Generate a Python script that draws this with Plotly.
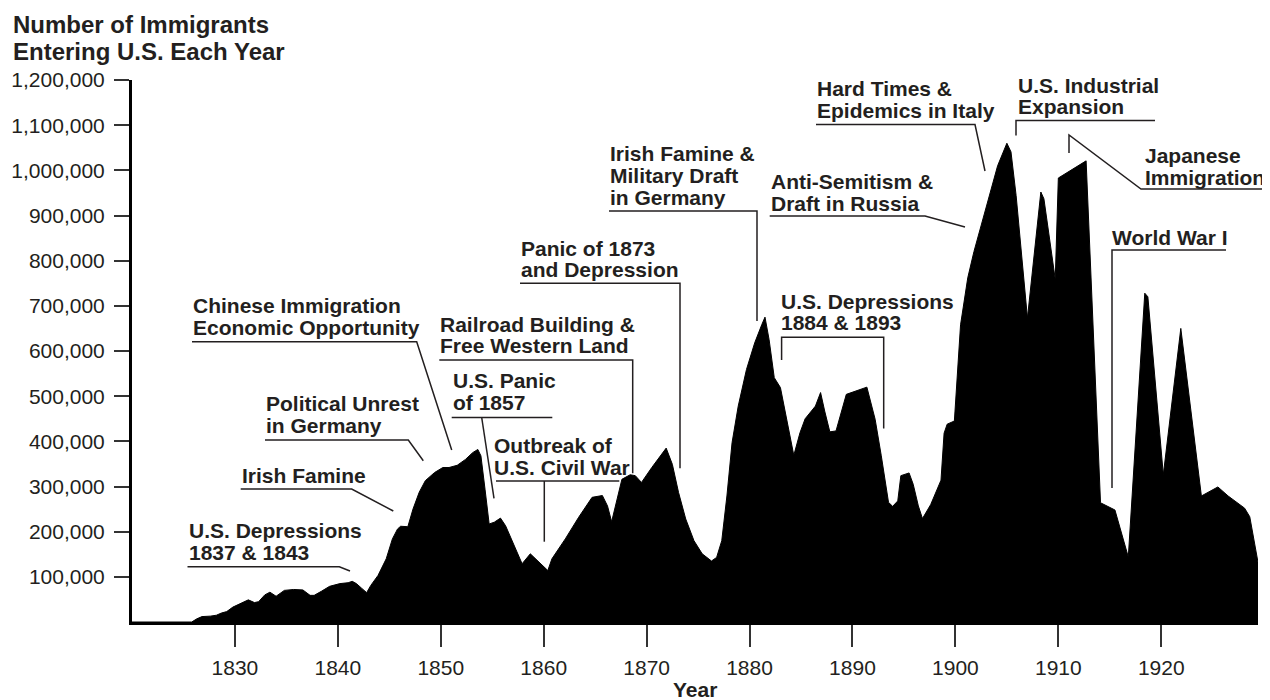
import plotly.graph_objects as go

# ---------------- data ----------------
years = [1820, 1825.8, 1826.3, 1826.8, 1827.6, 1828.2, 1828.7, 1829.2, 1829.8, 1830.5,
         1831.3, 1831.9, 1832.3, 1832.9, 1833.4, 1834.0, 1834.8, 1835.7, 1836.6, 1837.3,
         1837.7, 1838.4, 1839.2, 1840.2, 1841.0, 1841.4, 1841.8, 1842.3, 1842.8, 1843.2,
         1843.9, 1844.7, 1845.3, 1845.8, 1846.1, 1846.8, 1847.3, 1847.9, 1848.5, 1849.4,
         1850.2, 1850.8, 1851.6, 1852.4, 1853.1, 1853.6, 1853.9, 1854.3, 1854.7, 1855.2,
         1855.8, 1856.3, 1857.1, 1857.9, 1858.7, 1859.6, 1860.4, 1860.8, 1862.1, 1863.4,
         1864.7, 1865.7, 1866.2, 1866.6, 1867.1, 1867.6, 1868.4, 1868.9, 1869.5, 1870.5,
         1871.9, 1872.5, 1873.1, 1873.8, 1874.6, 1875.4, 1876.3, 1876.8, 1877.3, 1877.8,
         1878.3, 1878.9, 1879.7, 1880.5, 1881.2, 1881.5, 1881.9, 1882.4, 1883.0, 1883.6,
         1884.3, 1884.9, 1885.4, 1886.4, 1886.9, 1887.3, 1887.8, 1888.4, 1889.4, 1891.4,
         1892.2, 1892.8, 1893.5, 1893.9, 1894.4, 1894.7, 1895.5, 1895.9, 1896.4, 1896.8,
         1897.6, 1898.6, 1898.9, 1899.2, 1899.9, 1900.5, 1901.2, 1901.8, 1902.9, 1904.1,
         1905.0, 1905.4, 1905.9, 1907.0, 1908.3, 1908.6, 1909.7, 1910.0, 1912.7, 1914.1,
         1915.5, 1916.8, 1918.4, 1918.7, 1920.2, 1921.9, 1923.9, 1925.5, 1926.5, 1928.1,
         1928.6, 1929.4]

immigrants_k = [0, 0, 7, 12, 13, 15, 20, 23, 33, 40,
                49, 43, 45, 60, 66, 57, 70, 72, 71, 59,
                59, 68, 79, 85, 87, 90, 85, 75, 65, 81,
                103, 140, 184, 206, 212, 211, 250, 287, 313, 331,
                342, 342, 347, 360, 375, 382, 368, 294, 217, 221,
                230, 213, 169, 129, 151, 132, 114, 140, 184, 232,
                276, 280, 257, 222, 272, 316, 326, 324, 309, 342,
                385, 349, 287, 228, 180, 151, 135, 143, 180, 279,
                397, 478, 559, 618, 659, 675, 625, 541, 519, 449,
                369, 419, 450, 478, 508, 467, 421, 423, 504, 520,
                449, 368, 265, 256, 268, 324, 330, 305, 257, 229,
                260, 314, 418, 438, 445, 658, 762, 820, 909, 1010,
                1060, 1041, 944, 673, 952, 937, 759, 983, 1021, 264,
                248, 144, 728, 720, 326, 650, 279, 299, 279, 252,
                233, 132]

immigrants = [v * 1000 for v in immigrants_k]

x_tick_years = [1830, 1840, 1850, 1860, 1870, 1880, 1890, 1900, 1910, 1920]
x_tick_labels = [str(y) for y in x_tick_years]
y_tick_values = [100000 * i for i in range(1, 13)]
y_tick_labels = ["100,000", "200,000", "300,000", "400,000", "500,000", "600,000",
                 "700,000", "800,000", "900,000", "1,000,000", "1,100,000", "1,200,000"]

title_lines = ["Number of Immigrants", "Entering U.S. Each Year"]
x_title = "Year"

# event labels: (lines of text, left px, centre of the text block px)
events = [
    (["U.S. Depressions", "1837 & 1843"], 187.5, 541.7),
    (["Irish Famine"], 240.7, 475.0),
    (["Political Unrest", "in Germany"], 265.0, 414.5),
    (["Chinese Immigration", "Economic Opportunity"], 192.0, 316.5),
    (["Railroad Building &", "Free Western Land"], 439.3, 335.0),
    (["U.S. Panic", "of 1857"], 451.7, 391.7),
    (["Outbreak of", "U.S. Civil War"], 492.7, 456.2),
    (["Panic of 1873", "and Depression"], 520.0, 258.8),
    (["Irish Famine &", "Military Draft", "in Germany"], 609.0, 175.5),
    (["U.S. Depressions", "1884 & 1893"], 780.0, 312.0),
    (["Anti-Semitism &", "Draft in Russia"], 769.7, 192.7),
    (["Hard Times &", "Epidemics in Italy"], 816.0, 99.7),
    (["U.S. Industrial", "Expansion"], 1017.0, 96.0),
    (["Japanese", "Immigration"], 1143.5, 166.2),
    (["World War I"], 1111.0, 237.5),
]
LINE_STEP = 21.6

# leader lines (layout geometry, in page pixels)
leaders = [
    [(187.5, 566.7), (339.3, 566.7), (350, 571)],
    [(240.7, 489), (351.7, 489), (393.3, 511)],
    [(265, 440), (408.3, 440), (423.3, 460.7)],
    [(192, 341.7), (416.7, 341.7), (451.7, 450)],
    [(439.3, 360), (632.7, 360), (632.7, 473.3)],
    [(451.7, 417.5), (552.3, 417.5)],
    [(481.7, 417.5), (494, 498.3)],
    [(496, 481), (619.3, 481)],
    [(544.3, 481), (544.3, 541.7)],
    [(520, 283.3), (680, 283.3), (680, 468.3)],
    [(609, 211), (757, 211), (757, 321)],
    [(781.6, 359.9), (781.6, 337.2), (883.7, 337.2), (883.7, 428.5)],
    [(769.7, 216), (925, 216), (965, 227)],
    [(816, 124.5), (975, 124.5), (985, 171)],
    [(1016, 135.5), (1016, 120.5), (1155, 120.5)],
    [(1069, 153), (1069, 135), (1141, 189), (1263, 189)],
    [(1112, 488), (1112, 250), (1226, 250)],
]

# ---------------- layout geometry ----------------
PAGE_OFFSET = 8          # default body margin of the html page
W, H = 1270 - PAGE_OFFSET, 700 - PAGE_OFFSET
L, R, T, B = 132, 1258, 80, 622   # plot area in page pixels

def PX(px):
    return (px - L) / (R - L)

def PY(py):
    return (B - py) / (B - T)

FONT = "Liberation Sans, Arial, Helvetica, sans-serif"
INK = "#231f20"

fig = go.Figure()
fig.add_trace(go.Scatter(
    x=years, y=immigrants, mode="lines",
    line=dict(color="black", width=1),
    fill="tozeroy", fillcolor="black",
    hoverinfo="x+y", showlegend=False,
))

annotations = []
for i, line in enumerate(title_lines):
    annotations.append(dict(
        text=line, x=PX(12), y=PY(24.7 + i * 27.0), xref="paper", yref="paper",
        xanchor="left", yanchor="middle", showarrow=False, borderpad=0,
        font=dict(family=FONT, size=24, color=INK, weight="bold"),
    ))

# x-axis title, centred under the plot
annotations.append(dict(
    text=x_title, x=0.5, y=PY(689), xref="paper", yref="paper",
    xanchor="center", yanchor="middle", showarrow=False, borderpad=0,
    font=dict(family=FONT, size=21, color=INK, weight="bold"),
))

for lines, left, yc in events:
    n = len(lines)
    for i, line in enumerate(lines):
        yy = yc + (i - (n - 1) / 2) * LINE_STEP
        annotations.append(dict(
            text=line, x=PX(left), y=PY(yy), xref="paper", yref="paper",
            xanchor="left", yanchor="middle", showarrow=False, borderpad=0,
            font=dict(family=FONT, size=21, color=INK, weight="bold"),
        ))

shapes = []
for pts in leaders:
    path = "M " + " L ".join(f"{PX(x):.5f},{PY(y):.5f}" for x, y in pts)
    shapes.append(dict(type="path", path=path, xref="paper", yref="paper",
                       line=dict(color=INK, width=1.5)))

fig.update_layout(
    width=W, height=H,
    margin=dict(l=L - PAGE_OFFSET, r=W - (R - PAGE_OFFSET), t=T - PAGE_OFFSET,
                b=H - (B - PAGE_OFFSET), pad=0, autoexpand=False),
    paper_bgcolor="white", plot_bgcolor="white",
    font=dict(family=FONT, color=INK),
    annotations=annotations, shapes=shapes,
    showlegend=False,
)

fig.update_xaxes(
    range=[1820, 1929.4], tickmode="array", tickvals=x_tick_years, ticktext=x_tick_labels,
    ticks="outside", ticklen=22, tickwidth=2, tickcolor="#333333",
    showline=True, linewidth=3, linecolor="black", automargin=False,
    showgrid=False, zeroline=False, ticklabelstandoff=3,
    tickfont=dict(family=FONT, size=21, color=INK),
)
fig.update_yaxes(
    range=[0, 1200000], tickmode="array", tickvals=y_tick_values, ticktext=y_tick_labels,
    ticks="outside", ticklen=15, tickwidth=2, tickcolor="#333333",
    showline=True, linewidth=3, linecolor="black", automargin=False,
    showgrid=False, zeroline=False, ticklabelstandoff=5,
    tickfont=dict(family=FONT, size=21, color=INK),
)

fig.write_html("out.html")
